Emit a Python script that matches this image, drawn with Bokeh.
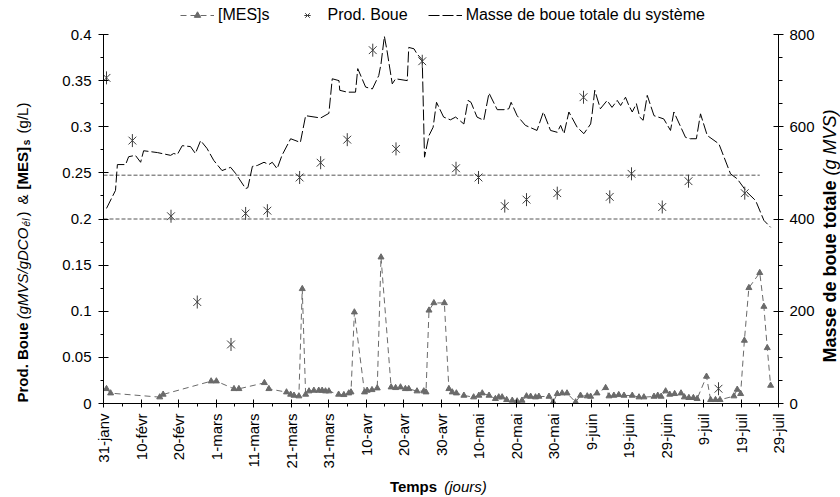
import math
from bokeh.plotting import figure
from bokeh.layouts import column, row
from bokeh.models import (Range1d, LinearAxis, FixedTicker, NumeralTickFormatter,
                          Legend, LegendItem, Label, Spacer)
from bokeh.embed import file_html
from bokeh.resources import INLINE

# ---------------- data ----------------
tick_days = [0, 10, 20, 30, 40, 50, 60, 70, 80, 90, 100, 110, 120, 130, 140, 150, 160, 170, 180]
tick_labels = ["31-janv", "10-févr", "20-févr", "1-mars", "11-mars", "21-mars", "31-mars",
               "10-avr", "20-avr", "30-avr", "10-mai", "20-mai", "30-mai", "9-juin",
               "19-juin", "29-juin", "9-juil", "19-juil", "29-juil"]
minor_days = [5, 15, 25, 35, 45, 55, 65, 75, 85, 95, 105, 115, 125, 135, 145, 155, 165, 175]
left_ticks = [0, 0.05, 0.1, 0.15, 0.2, 0.25, 0.3, 0.35, 0.4]
left_minor = [0.025, 0.075, 0.125, 0.175, 0.225, 0.275, 0.325, 0.375]
right_ticks = [0, 200, 400, 600, 800]
right_minor = [50, 100, 150, 250, 300, 350, 450, 500, 550, 650, 700, 750]

# [MES]s (g/L)
mes_day = [0.8, 1.9, 15, 15.9, 28.7, 30.1, 34.8, 36.1, 42.9, 44.1, 48.8, 49.9, 50.8, 52.1,
           53, 53.9, 54.8, 56.1, 57.4, 58.3, 59.2, 60.1, 62.7, 64.1, 65.4, 66, 66.9, 69.6,
           70.3, 71.6, 73, 74, 76.7, 77.9, 79.2, 80.5, 81.4, 83.6, 85.4, 86, 86.8, 88.1,
           90.9, 92.1, 93, 94.1, 96.1, 98.7, 100.1, 101, 102.8, 104.5, 105.4, 106.3, 107.5,
           109, 110.3, 111.6, 112.8, 113.9, 115.2, 116.1, 118.8, 119.9, 121, 122.3, 123.6,
           125.9, 127.2, 129, 129.9, 131.6, 133.9, 134.8, 136.1, 137.4, 138.8, 141, 142.8,
           144.1, 146.8, 147.8, 148.7, 149.9, 151, 152.3, 154, 154.9, 156.1, 157.3, 158.3,
           160.8, 161.9, 163.2, 164.4, 168.1, 169, 169.9, 170.9, 172.1, 175, 176.1, 177, 177.9]
mes_val = [0.0159, 0.0112, 0.0069, 0.0098, 0.0242, 0.0242, 0.0159, 0.0159, 0.0224, 0.0159,
           0.0123, 0.0098, 0.0087, 0.0080, 0.1243, 0.0098, 0.0134, 0.0141, 0.0141, 0.0141,
           0.0134, 0.0134, 0.0098, 0.0094, 0.0112, 0.0123, 0.0990, 0.0123, 0.0141, 0.0148,
           0.0166, 0.1586, 0.0177, 0.0170, 0.0177, 0.0159, 0.0159, 0.0134, 0.0134, 0.0123,
           0.101, 0.109, 0.109, 0.0159, 0.0123, 0.0112, 0.0087, 0.0069, 0.0087, 0.0112,
           0.0087, 0.0051, 0.0069, 0.0069, 0.0040, 0.0033, 0.0025, 0.0033, 0.0080, 0.0076,
           0.0069, 0.0076, 0.0076, 0.0015, 0.0105, 0.0112, 0.0112, 0.0015, 0.0087, 0.0080,
           0.0076, 0.0112, 0.0170, 0.0080, 0.0087, 0.0094, 0.0087, 0.0087, 0.0069, 0.0069,
           0.0076, 0.0087, 0.0076, 0.0134, 0.0098, 0.0105, 0.0112, 0.0069, 0.0062, 0.0062,
           0.0051, 0.0293, 0.0040, 0.0040, 0.0040, 0.0080, 0.0152, 0.0105, 0.0683, 0.1254,
           0.1417, 0.1051, 0.0603, 0.0195]

# Prod. Boue (gMVS/gDCO él)
pb_day = [0.8, 7.7, 18, 25, 34, 37.9, 43.7, 52.3, 57.9, 65, 71.8, 78, 85, 94, 100, 107,
          112.8, 121, 128, 135, 140.8, 149, 156, 164, 171]
pb_val = [0.353, 0.285, 0.203, 0.110, 0.064, 0.206, 0.209, 0.245, 0.261, 0.286, 0.383,
          0.276, 0.371, 0.255, 0.245, 0.214, 0.221, 0.228, 0.332, 0.224, 0.249, 0.213,
          0.241, 0.016, 0.228]

# Masse de boue totale du système (g MVS)
masse_day = [0.8, 3.2, 3.7, 5.9, 6.7, 8.5, 9.9, 10.7, 14.4, 17.9, 18.7, 19.7, 21, 23.2,
             24.5, 25.9, 27.6, 29.4, 31.6, 33.9, 35.2, 37.9, 38.5, 39.7, 41, 42.8, 44.1,
             45, 46.3, 47.6, 49.9, 52.5, 53.9, 57.9, 60.1, 61, 62.8, 63, 65, 67.2, 67.8,
             69.9, 71.7, 73.4, 74, 74.9, 75.6, 77, 77.9, 81, 81.4, 82.8, 83.6, 85, 85.6,
             86.8, 87.9, 88.8, 90.7, 92.5, 93.9, 96.1, 97.2, 98, 99.6, 101.4, 102.8, 105,
             106.8, 108.1, 108.7, 110.3, 112.5, 115.6, 117.3, 119.2, 121, 121.9, 122.8,
             124.1, 126.3, 128.1, 129.9, 130.3, 131, 132.5, 134.3, 135.6, 137, 137.9,
             139.2, 140.1, 141, 142.1, 143, 143.9, 145, 146.8, 149.4, 151.2, 152.1, 155.2,
             156.5, 158.1, 159.2, 161, 164.1, 167.2, 169, 171.6, 173.9, 176.1, 177.9]
masse_val = [423, 462, 518, 518, 535, 538, 523, 548, 544, 538, 542, 540, 559, 557,
             542, 570, 553, 527, 505, 512, 499, 466, 468, 514, 516, 523, 518,
             523, 509, 538, 574, 566, 624, 619, 629, 704, 700, 679, 675, 675, 726,
             686, 682, 711, 736, 796, 765, 693, 704, 700, 772, 769, 758, 745, 534,
             581, 599, 653, 621, 615, 621, 606, 657, 653, 621, 614, 673, 637,
             637, 639, 653, 624, 603, 592, 632, 592, 588, 603, 585,
             632, 599, 585, 606, 628, 679, 639, 657, 642, 657, 646,
             664, 646, 632, 650, 621, 614, 668, 624, 617, 592, 632, 577,
             574, 574, 628, 581, 563, 498, 487, 458, 440, 397, 382]

# horizontal reference levels (left axis units)
ref_levels = [0.2, 0.2475]
ref_start = [0, 0]
ref_end = [175, 175]

FONT = "Liberation Sans"
MES_COLOR = "#6a6a6a"
PB_COLOR = "#3c3c3c"

# page layout (pixels): top strip, middle row, bottom strip
TOP_H, MID_H, BOT_H = 24, 451, 21
LEFT_W, MAIN_W, RIGHT_W = 40, 778, 22
LEG_X = 180
FRAME_TOP, FRAME_BOTTOM = 34, 403   # page y of the plot frame (side strips share it)


def blank(width, height, x0, x1, y0, y1):
    f = figure(width=width, height=height, x_range=Range1d(x0, x1),
               y_range=Range1d(y1, y0), output_backend="svg", toolbar_location=None,
               x_axis_type=None, y_axis_type=None, min_border=0)
    f.outline_line_color = None
    f.background_fill_color = "white"
    f.border_fill_color = "white"
    return f


# ---------------- main figure ----------------
p = figure(width=MAIN_W, height=MID_H, x_range=Range1d(0, 180), y_range=Range1d(0, 0.4),
           output_backend="svg", toolbar_location=None,
           min_border_left=63, min_border_right=40, min_border_top=10, min_border_bottom=72)
p.extra_y_ranges = {"mass": Range1d(0, 800)}
p.xgrid.visible = False
p.ygrid.visible = False
p.outline_line_color = None
p.background_fill_color = "white"
p.border_fill_color = "white"


def style_axis(ax, tin, tout, mout, standoff):
    ax.axis_line_color = "black"
    ax.axis_line_width = 1
    ax.major_tick_line_color = "black"
    ax.minor_tick_line_color = "black"
    ax.major_tick_in = tin
    ax.major_tick_out = tout
    ax.minor_tick_in = 0
    ax.minor_tick_out = mout
    ax.major_label_standoff = standoff
    ax.major_label_text_font = FONT
    ax.major_label_text_font_size = "15px"
    ax.major_label_text_color = "black"


xa = p.xaxis[0]
xa.ticker = FixedTicker(ticks=tick_days, minor_ticks=minor_days)
xa.major_label_overrides = {d: l for d, l in zip(tick_days, tick_labels)}
xa.major_label_orientation = math.pi / 2
style_axis(xa, 4, 4, 3, 6)

ya = p.yaxis[0]
ya.ticker = FixedTicker(ticks=left_ticks, minor_ticks=left_minor)
ya.formatter = NumeralTickFormatter(format="0.[00]")
style_axis(ya, 5, 5, 3, 7)

ra = LinearAxis(y_range_name="mass",
                ticker=FixedTicker(ticks=right_ticks, minor_ticks=right_minor))
style_axis(ra, 5, 5, 4, 6)
p.add_layout(ra, "right")

p.segment(x0=ref_start, y0=ref_levels, x1=ref_end, y1=ref_levels,
          line_color="#555555", line_dash="4 2", line_width=1)
p.line(masse_day, masse_val, y_range_name="mass", line_color="black",
       line_dash="11 3", line_width=1)
p.line(mes_day, mes_val, line_color=MES_COLOR, line_dash="6 4", line_width=1)
p.scatter(mes_day, mes_val, marker="triangle", size=6, fill_color=MES_COLOR,
          line_color=MES_COLOR)
p.scatter(pb_day, pb_val, marker="x", size=11, line_color=PB_COLOR, line_width=1)
p.scatter(pb_day, pb_val, marker="dash", angle=math.pi / 2, size=13,
          line_color=PB_COLOR, line_width=1)

# ---------------- legend strip (legend proxies hold no visible data) ----------------
top = blank(840 - LEG_X, TOP_H, 0, 840 - LEG_X, 0, TOP_H)
nan = [float("nan")]
l_mes = top.line(nan, nan, line_color=MES_COLOR, line_dash="6 4", line_width=1)
s_mes = top.scatter(nan, nan, marker="triangle", size=6, fill_color=MES_COLOR,
                    line_color=MES_COLOR)
s_pbx = top.scatter(nan, nan, marker="x", size=11, line_color=PB_COLOR, line_width=1)
s_pbv = top.scatter(nan, nan, marker="dash", angle=math.pi / 2, size=13,
                    line_color=PB_COLOR, line_width=1)
l_mas = top.line(nan, nan, line_color="black", line_dash="11 3", line_width=1)
legend = Legend(items=[
    LegendItem(label="[MES]s", renderers=[l_mes, s_mes]),
    LegendItem(label="Prod. Boue", renderers=[s_pbx, s_pbv]),
    LegendItem(label="Masse de boue totale du système", renderers=[l_mas]),
], orientation="horizontal", location="bottom_left")
legend.border_line_color = None
legend.background_fill_alpha = 0
legend.padding = 0
legend.margin = 0
legend.spacing = 20
legend.label_standoff = 4
legend.glyph_width = 34
legend.glyph_height = 16
legend.label_height = 16
legend.label_text_font = FONT
legend.label_text_font_size = "16px"
legend.label_text_color = "black"
top.add_layout(legend)

# ---------------- axis title strips (mixed font styles) ----------------
# side strips in the row share the main plot's frame rows (page y 34..403)
left = blank(LEFT_W, MID_H, 0, LEFT_W, FRAME_TOP, FRAME_BOTTOM)
right = blank(RIGHT_W, MID_H, 840 - RIGHT_W, 840, FRAME_TOP, FRAME_BOTTOM)
y_bot = TOP_H + MID_H
bottom = blank(840, BOT_H, 0, 840, y_bot, y_bot + BOT_H)

V = math.pi / 2
title_pieces = [
    # figure, text, style, size, page x (centre), page y (centre), angle
    (left, "Prod. Boue", "bold", 15, 22, 362, V),
    (left, "(gMVS/gDCO", "italic", 15, 22, 273, V),
    (left, "él", "italic", 10, 26, 222, V),
    (left, ")", "normal", 15, 22, 213.5, V),
    (left, "&", "normal", 15, 22, 199, V),
    (left, "[MES]", "bold", 15, 22, 167.7, V),
    (left, "s", "bold", 10, 26, 142, V),
    (left, "(g/L)", "normal", 15, 22, 117.5, V),
    (right, "Masse de boue totale", "bold", 18, 829, 271, V),
    (right, "(g MVS)", "italic", 18, 829, 142, V),
    (bottom, "Temps", "bold", 15, 413, 486, 0),
    (bottom, "(jours)", "italic", 15, 465, 486, 0),
]
for fig, txt, style, size, px, py, ang in title_pieces:
    fig.add_layout(Label(x=px, y=py, text=txt, angle=ang,
                         text_font=FONT, text_font_style=style,
                         text_font_size=f"{size}px", text_color="black",
                         text_align="center", text_baseline="middle"))

layout = column(
    row(Spacer(width=LEG_X, height=TOP_H), top),
    row(left, p, right),
    bottom,
)

open("out.html", "w").write(file_html(layout, INLINE))
